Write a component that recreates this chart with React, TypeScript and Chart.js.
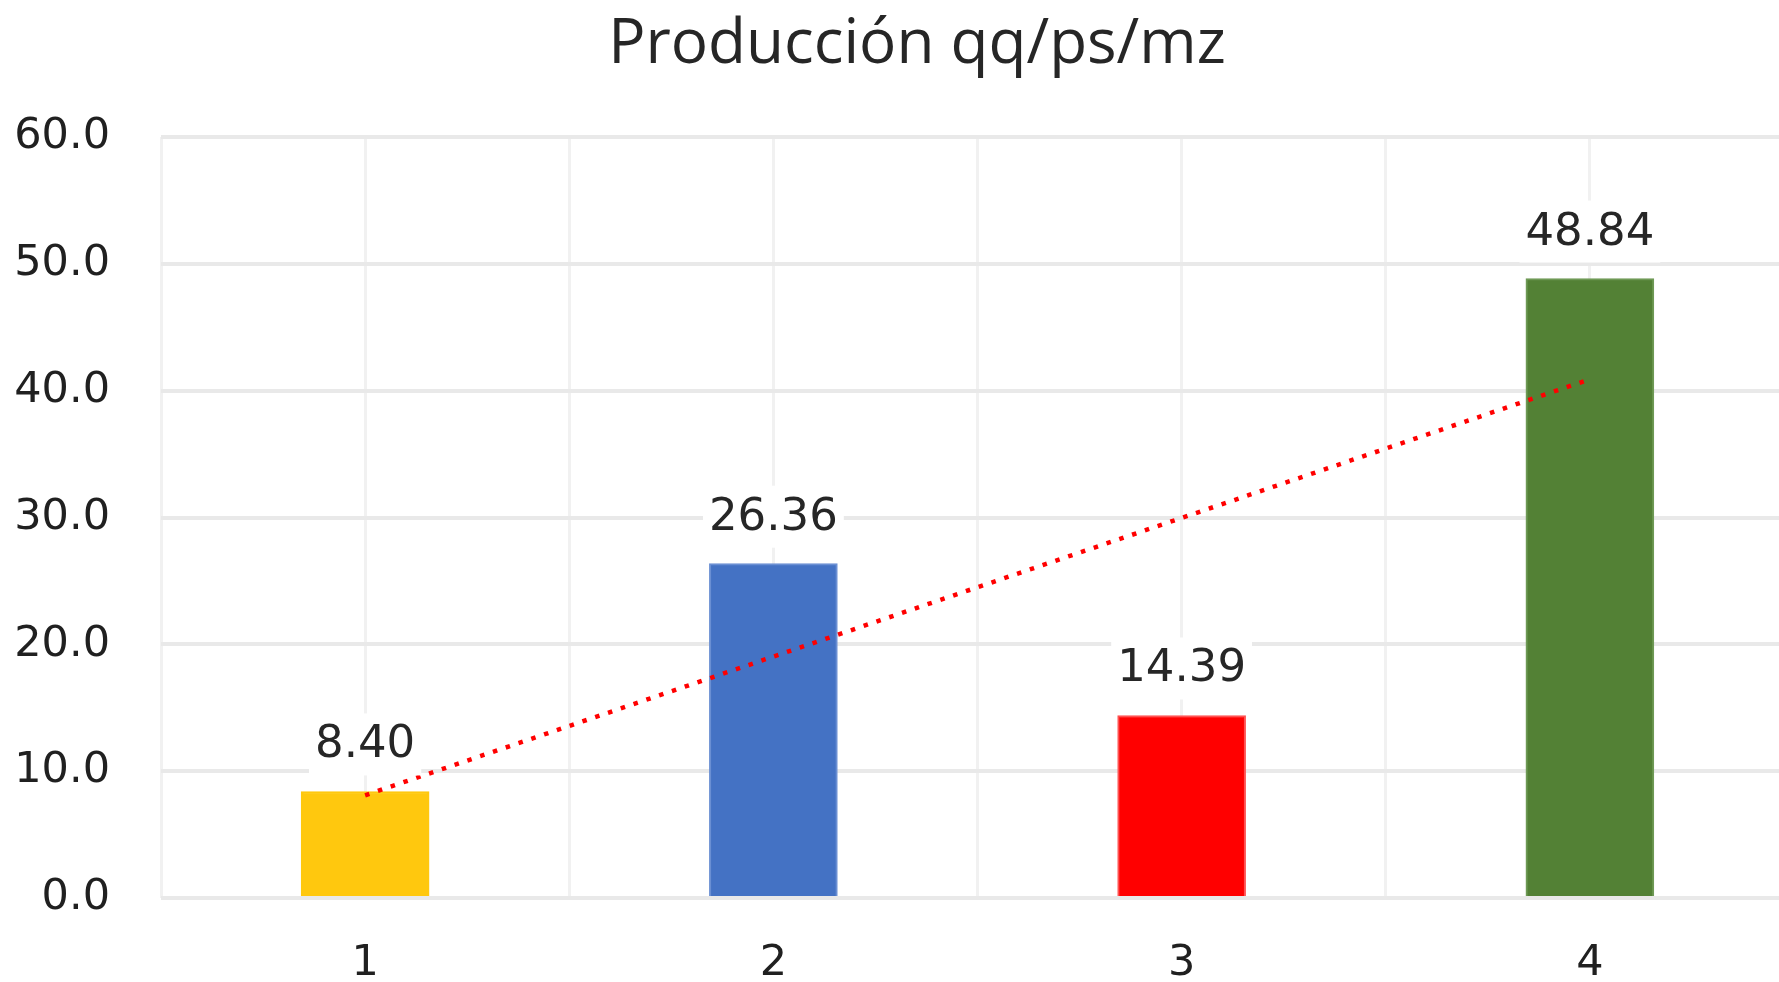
import React, { useEffect, useRef } from "react";
import { Chart, registerables } from "chart.js";

Chart.register(...registerables);

const titleText = "Producción qq/ps/mz";
const categories = [1, 2, 3, 4];
const categoryLabels = ["1", "2", "3", "4"];
const barValues = [8.4, 26.36, 14.39, 48.84];
const barLabels = ["8.40", "26.36", "14.39", "48.84"];
const barColors = ["#FFC80E", "#4472C4", "#FF0000", "#538135"];
const barBorderColors = ["#FFC80E", "#6A8FD3", "#FF5252", "#6E9955"];
const trendPositions = [1, 4];
const trendValues = [8.1, 40.9];
const yTicks = [0, 10, 20, 30, 40, 50, 60];

const titlePlugin = {
  id: "fixedTitle",
  afterDraw(chart: any) {
    const ctx = chart.ctx;
    ctx.save();
    ctx.font = '62px "Open Sans"';
    ctx.fillStyle = "#262626";
    ctx.textAlign = "center";
    ctx.textBaseline = "middle";
    ctx.fillText(titleText, 917, 45);
    ctx.restore();
  },
};

const labelPlugin = {
  id: "barLabels",
  afterDatasetsDraw(chart: any) {
    const meta = chart.getDatasetMeta(0);
    const ctx = chart.ctx;
    ctx.save();
    ctx.font = '45px "DejaVu Sans"';
    ctx.textAlign = "center";
    ctx.textBaseline = "alphabetic";
    meta.data.forEach((el: any, i: number) => {
      const text = barLabels[i];
      const w = ctx.measureText(text).width;
      const base = el.y - 34;
      ctx.fillStyle = "#ffffff";
      ctx.fillRect(el.x - w / 2 - 6, base - 44, w + 12, 62);
      ctx.fillStyle = "#262626";
      ctx.fillText(text, el.x, base);
    });
    ctx.restore();
  },
};

export default function App() {
  const ref = useRef<HTMLCanvasElement | null>(null);

  useEffect(() => {
    if (!ref.current) return;
    const chart = new Chart(ref.current, {
      type: "bar",
      data: {
        datasets: [
          {
            type: "bar",
            data: categories.map((c, i) => ({ x: c, y: barValues[i] })),
            backgroundColor: barColors,
            borderColor: barBorderColors,
            borderWidth: 2,
            barThickness: 128,
            order: 1,
          } as any,
          {
            type: "line",
            data: trendPositions.map((p, i) => ({ x: p, y: trendValues[i] })),
            borderColor: "#FF0000",
            borderWidth: 4.5,
            borderDash: [4.5, 9],
            borderCapStyle: "butt",
            pointRadius: 0,
            fill: false,
            order: 0,
          } as any,
        ],
      },
      options: {
        responsive: false,
        animation: false,
        layout: { padding: { top: 137, left: 16, right: 37, bottom: 0 } },
        plugins: {
          legend: { display: false },
          tooltip: { enabled: false },
          title: { display: false },
        },
        scales: {
          x: {
            type: "linear",
            min: 0.5,
            max: 4.5,
            offset: false,
            border: { display: false },
            grid: { color: "#F1F1F1", lineWidth: 3, drawTicks: false, offset: false },
            afterFit: (scale: any) => {
              scale.height = 92;
            },
            ticks: {
              stepSize: 0.5,
              autoSkip: false,
              maxRotation: 0,
              padding: 40,
              color: "#202020",
              font: { family: '"DejaVu Sans"', size: 43 },
              callback: (v: any) => {
                const idx = categories.indexOf(Number(v));
                return idx >= 0 ? categoryLabels[idx] : "";
              },
            },
          },
          y: {
            min: 0,
            max: 60,
            border: { display: false },
            afterFit: (scale: any) => {
              scale.width = 145;
            },
            afterBuildTicks: (scale: any) => {
              scale.ticks = yTicks.map((v) => ({ value: v }));
            },
            grid: { color: "#E9E9E9", lineWidth: 4, drawTicks: false },
            ticks: {
              padding: 51,
              color: "#202020",
              font: { family: '"DejaVu Sans"', size: 43 },
              callback: (v: any) => Number(v).toFixed(1),
            },
          },
        },
      },
      plugins: [labelPlugin, titlePlugin],
    });
    return () => chart.destroy();
  }, []);

  return (
    <div
      style={{
        position: "fixed",
        left: 0,
        top: 0,
        width: 1779,
        height: 982,
        overflow: "hidden",
        background: "#ffffff",
      }}
    >
      <canvas ref={ref} width={1834} height={990} style={{ display: "block" }} />
    </div>
  );
}
